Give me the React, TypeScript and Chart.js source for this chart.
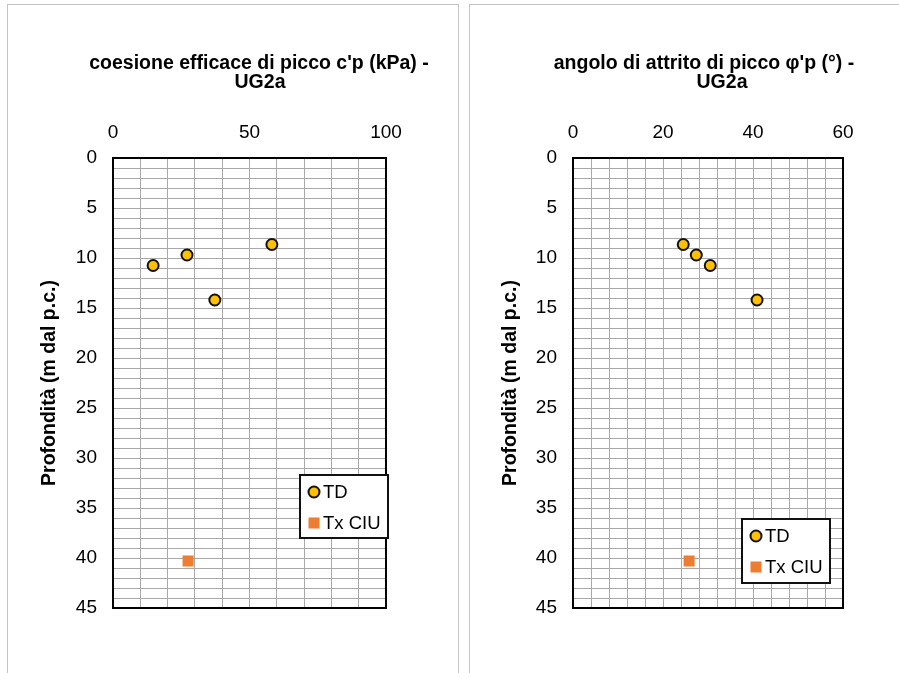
import React, { useEffect, useRef } from 'react';
import { Chart, registerables } from 'chart.js';

Chart.register(...registerables);

// Depths (m below ground level) of the samples
const depthTD = [8.65, 9.7, 10.75, 14.2];
const depthCIU = [40.3];

// Peak effective cohesion c'p (kPa)
const cohesionTD = [58.2, 27.1, 14.7, 37.3];
const cohesionCIU = [27.5];

// Peak friction angle φ'p (°)
const frictionTD = [24.5, 27.4, 30.5, 40.9];
const frictionCIU = [25.8];

// Labelled ticks
const depthTickLabels = [0, 5, 10, 15, 20, 25, 30, 35, 40, 45];
const cohesionTickLabels = [0, 50, 100];
const frictionTickLabels = [0, 20, 40, 60];

const seriesNames = ['TD', 'Tx CIU'];
const depthAxisTitle = 'Profondità (m dal p.c.)';
const cohesionTitle = ["coesione efficace di picco c'p (kPa) -", 'UG2a'];
const frictionTitle = ["angolo di attrito di picco φ'p (°) -", 'UG2a'];

const FONT = '"Liberation Sans", Arial, sans-serif';
const TD_FILL = '#FFC000';
const CIU_FILL = '#ED7D31';
const GRID = '#a9a9a9';

// Black frame around the plot area
const plotFrame = {
  id: 'plotFrame',
  beforeDatasetsDraw(chart: any) {
    const { ctx, chartArea: a } = chart;
    ctx.save();
    ctx.strokeStyle = '#000';
    ctx.lineWidth = 2;
    ctx.strokeRect(a.left, a.top, a.right - a.left, a.bottom - a.top);
    ctx.restore();
  },
};

// Two-line bold title drawn at a fixed centre
const panelTitle = {
  id: 'panelTitle',
  afterDraw(chart: any, _args: any, opts: any) {
    const { ctx } = chart;
    ctx.save();
    ctx.fillStyle = '#000';
    ctx.font = `bold ${opts.size}px ${FONT}`;
    ctx.textAlign = 'center';
    ctx.textBaseline = 'alphabetic';
    const lines: string[] = opts.lines;
    lines.forEach((line, i) => ctx.fillText(line, opts.x + opts.shifts[i], opts.baselines[i]));
    ctx.restore();
  },
};

// Boxed legend placed inside the plot area
const boxLegend = {
  id: 'boxLegend',
  afterDraw(chart: any, _args: any, opts: any) {
    const { ctx } = chart;
    const { x, y, w, h } = opts;
    ctx.save();
    ctx.fillStyle = '#fff';
    ctx.fillRect(x, y, w, h);
    ctx.strokeStyle = '#111';
    ctx.lineWidth = 2;
    ctx.strokeRect(x, y, w, h);
    ctx.font = `${opts.size}px ${FONT}`;
    ctx.textBaseline = 'middle';
    ctx.textAlign = 'left';
    chart.data.datasets.forEach((ds: any, i: number) => {
      const cy = y + 17 + i * 31;
      const cx = x + 14;
      if (ds.pointStyle === 'circle') {
        ctx.beginPath();
        ctx.arc(cx, cy, 5.5, 0, Math.PI * 2);
        ctx.fillStyle = ds.backgroundColor;
        ctx.fill();
        ctx.lineWidth = 2;
        ctx.strokeStyle = ds.borderColor;
        ctx.stroke();
      } else {
        ctx.fillStyle = ds.backgroundColor;
        ctx.fillRect(cx - 5.5, cy - 5.5, 11, 11);
      }
      ctx.fillStyle = '#000';
      ctx.fillText(ds.label, x + 23, cy + 1);
    });
    ctx.restore();
  },
};

type PanelProps = {
  left: number;
  width: number;
  plotLeft: number;
  plotRight: number;
  title: string[];
  titleShifts: number[];
  xMax: number;
  xStep: number;
  xTickLabels: number[];
  xTD: number[];
  xCIU: number[];
  legend: { x: number; y: number; w: number; h: number };
};

function DepthPanel(p: PanelProps) {
  const ref = useRef<HTMLCanvasElement>(null);

  useEffect(() => {
    const canvas = ref.current;
    if (!canvas) return;
    const yAxisLeft = 25;
    const chart = new Chart(canvas, {
      type: 'scatter',
      data: {
        datasets: [
          {
            label: seriesNames[0],
            data: depthTD.map((d, i) => ({ x: p.xTD[i], y: d })),
            pointStyle: 'circle',
            pointRadius: 5.5,
            pointBorderWidth: 2,
            backgroundColor: TD_FILL,
            borderColor: '#111',
            showLine: false,
          },
          {
            label: seriesNames[1],
            data: depthCIU.map((d, i) => ({ x: p.xCIU[i], y: d })),
            pointStyle: 'rect',
            pointRadius: 7.8,
            pointBorderWidth: 0,
            borderWidth: 0,
            backgroundColor: CIU_FILL,
            borderColor: CIU_FILL,
            showLine: false,
          },
        ],
      },
      options: {
        responsive: false,
        animation: false,
        events: [],
        layout: {
          padding: { left: yAxisLeft, right: p.width - p.plotRight, top: 100, bottom: 65 },
        },
        plugins: {
          legend: { display: false },
          tooltip: { enabled: false },
          title: { display: false },
          panelTitle: {
            lines: p.title,
            shifts: p.titleShifts,
            x: 250,
            baselines: [64, 83],
            size: 19.5,
          },
          boxLegend: { ...p.legend, size: 18.5 },
        } as any,
        scales: {
          x: {
            type: 'linear',
            position: 'top',
            min: 0,
            max: p.xMax,
            border: { display: false },
            grid: { color: GRID, lineWidth: 1, drawTicks: false },
            ticks: {
              stepSize: p.xStep,
              autoSkip: false,
              maxRotation: 0,
              padding: 14,
              color: '#000',
              font: { family: FONT, size: 19 },
              callback: (v: any) => (p.xTickLabels.includes(Number(v)) ? String(v) : ''),
            },
            afterFit: (s: any) => {
              s.height = 53;
            },
          },
          y: {
            type: 'linear',
            reverse: true,
            min: 0,
            max: 45,
            border: { display: false },
            grid: { color: GRID, lineWidth: 1, drawTicks: false },
            ticks: {
              stepSize: 1,
              autoSkip: false,
              padding: 16,
              color: '#000',
              font: { family: FONT, size: 19 },
              callback: (v: any) => (depthTickLabels.includes(Number(v)) ? String(v) : ''),
            },
            title: {
              display: true,
              text: depthAxisTitle,
              color: '#000',
              font: { family: FONT, size: 19.5, weight: 'bold' },
              padding: { top: 4, bottom: 4 },
            },
            afterFit: (s: any) => {
              s.width = p.plotLeft - yAxisLeft;
            },
          },
        },
      } as any,
      plugins: [plotFrame, panelTitle, boxLegend],
    });
    return () => chart.destroy();
  }, []);

  return (
    <canvas
      ref={ref}
      width={p.width}
      height={668}
      style={{ position: 'absolute', left: p.left, top: 5, width: p.width, height: 668 }}
    />
  );
}

export default function App() {
  return (
    <div
      style={{
        position: 'absolute',
        left: 0,
        top: 0,
        width: 899,
        height: 673,
        overflow: 'hidden',
        background: '#fff',
      }}
    >
      <div
        style={{
          position: 'absolute',
          left: 7,
          top: 4,
          width: 452,
          height: 720,
          boxSizing: 'border-box',
          border: '1px solid #c4c4c4',
        }}
      />
      <div
        style={{
          position: 'absolute',
          left: 469,
          top: 4,
          width: 452,
          height: 720,
          boxSizing: 'border-box',
          border: '1px solid #c4c4c4',
        }}
      />
      <DepthPanel
        left={9}
        width={448}
        plotLeft={104}
        plotRight={377}
        title={cohesionTitle}
        titleShifts={[0, 1]}
        xMax={100}
        xStep={10}
        xTickLabels={cohesionTickLabels}
        xTD={cohesionTD}
        xCIU={cohesionCIU}
        legend={{ x: 291, y: 470, w: 88, h: 63 }}
      />
      <DepthPanel
        left={470}
        width={429}
        plotLeft={103}
        plotRight={373}
        title={frictionTitle}
        titleShifts={[-16, 2]}
        xMax={60}
        xStep={4}
        xTickLabels={frictionTickLabels}
        xTD={frictionTD}
        xCIU={frictionCIU}
        legend={{ x: 272, y: 514, w: 88, h: 64 }}
      />
    </div>
  );
}
